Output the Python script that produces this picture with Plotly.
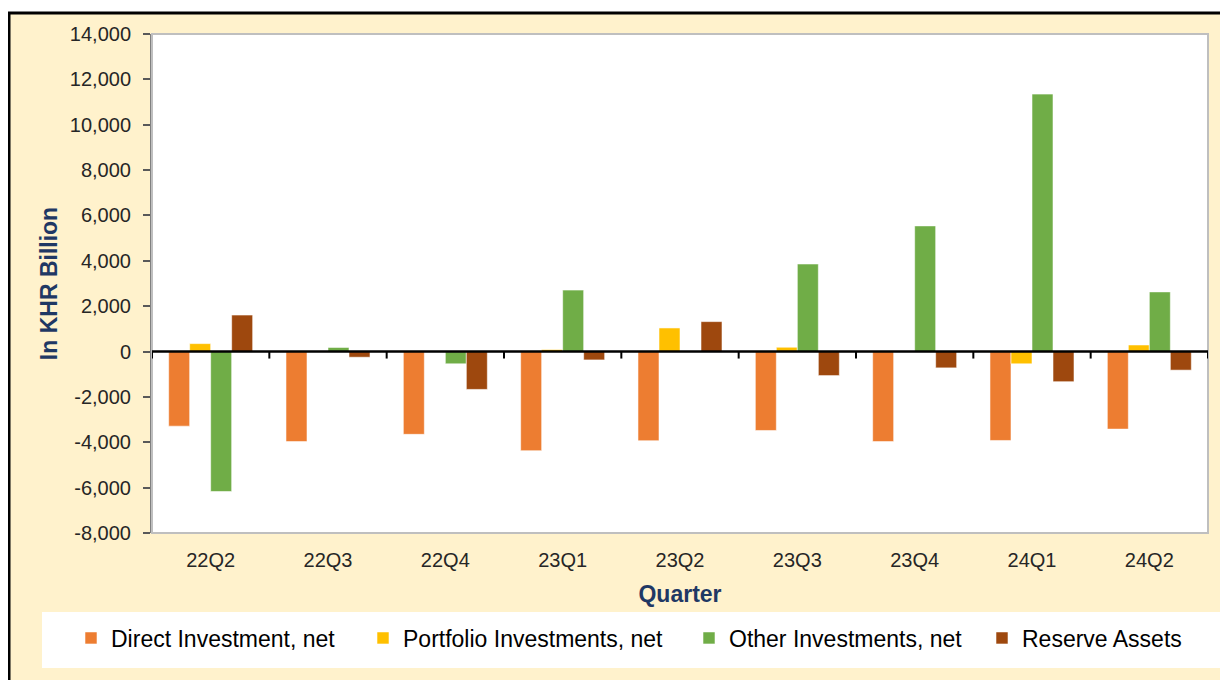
import plotly.graph_objects as go

quarters = ["22Q2", "22Q3", "22Q4", "23Q1", "23Q2", "23Q3", "23Q4", "24Q1", "24Q2"]
direct = [-3290, -3970, -3650, -4370, -3930, -3480, -3970, -3920, -3420]
portfolio = [350, 10, 20, 90, 1040, 190, 20, -540, 290]
other = [-6170, 180, -540, 2710, 10, 3860, 5540, 11350, 2630]
reserve = [1610, -250, -1670, -370, 1320, -1060, -720, -1330, -820]

series_names = ["Direct Investment, net", "Portfolio Investments, net",
                "Other Investments, net", "Reserve Assets"]
series_values = [direct, portfolio, other, reserve]
series_colors = ["#ED7D31", "#FFC000", "#70AD47", "#9E480E"]
y_ticks = list(range(-8000, 14001, 2000))
y_tick_labels = [f"{v:,}" for v in y_ticks]

FONT = "Arial, 'Liberation Sans', sans-serif"
W, H = 1228, 680
L, R, T, B = 144, 28, 26, 155
PW, PH = W - L - R, H - T - B


def px_x(px):
    return (px - L) / PW


def px_y(py):
    return (H - B - py) / PH


fig = go.Figure()
legend_names = ["legend", "legend2", "legend3", "legend4"]
for name, vals, col, lg in zip(series_names, series_values, series_colors, legend_names):
    fig.add_trace(go.Bar(
        x=quarters, y=vals, name=name, legend=lg, showlegend=True,
        marker=dict(color=col, line=dict(color="rgba(255,255,255,0.55)", width=1)),
    ))

shapes = []
# yellow chart area with black frame (right/bottom edges fall outside the page)
shapes.append(dict(type="rect", xref="paper", yref="paper", x0=px_x(1), x1=px_x(1300),
                   y0=px_y(760), y1=px_y(5), fillcolor="#FFF2CC",
                   line=dict(color="black", width=3), layer="below"))
# legend white box
shapes.append(dict(type="rect", xref="paper", yref="paper", x0=px_x(34), x1=px_x(1216),
                   y0=px_y(660), y1=px_y(604), fillcolor="white", line=dict(width=0), layer="below"))
# plot area white + border
shapes.append(dict(type="rect", xref="paper", yref="paper", x0=0, x1=1, y0=0, y1=1,
                   fillcolor="white", line=dict(width=0), layer="below"))
shapes.append(dict(type="rect", xref="paper", yref="paper", x0=0, x1=1, y0=0, y1=1,
                   line=dict(color="#BFBFBF", width=2), layer="above"))
# category boundary ticks on the zero line
for i in range(len(quarters) + 1):
    shapes.append(dict(type="line", xref="x", yref="y", ysizemode="pixel", yanchor=0,
                       x0=i - 0.5, x1=i - 0.5, y0=0, y1=-7,
                       line=dict(color="black", width=2)))
# zero line
shapes.append(dict(type="line", xref="paper", yref="y", x0=0, x1=1, y0=0, y1=0,
                   line=dict(color="black", width=2.5)))

fig.update_layout(
    width=W, height=H,
    margin=dict(l=L, r=R, t=T, b=B),
    paper_bgcolor="white",
    plot_bgcolor="white",
    showlegend=True,
    barmode="group",
    bargap=0.284,
    bargroupgap=0,
    font=dict(family=FONT, color="#262626", size=20),
    shapes=shapes,
    xaxis=dict(
        type="category", range=[-0.5, len(quarters) - 0.5],
        showgrid=False, showline=False, ticks="", zeroline=False,
        tickfont=dict(size=20, color="#262626"), ticklabelstandoff=13,
        title=dict(text="<b>Quarter</b>", font=dict(size=23, color="#1F3864"), standoff=15),
    ),
    yaxis=dict(
        range=[-8000, 14000], tickvals=y_ticks, ticktext=y_tick_labels,
        showgrid=False, zeroline=False,
        showline=True, linecolor="#808080", linewidth=2,
        ticks="outside", ticklen=7, tickcolor="#595959", tickwidth=1.5,
        tickfont=dict(size=20, color="#262626"), ticklabelstandoff=8,
        title=dict(text="<b>In KHR Billion</b>", font=dict(size=23, color="#1F3864"), standoff=6),
    ),
)

# reference marker centres (page px, figure offset 8)
marker_centers = [95, 387, 713, 1006]
for lg, mc in zip(legend_names, marker_centers):
    fig.update_layout({lg: dict(
        orientation="h", x=px_x(mc - 32), xanchor="left",
        y=px_y(630), yanchor="middle",
        bgcolor="rgba(0,0,0,0)", borderwidth=0,
        font=dict(family=FONT, size=23, color="#000000"),
    )})

fig.write_html("out.html")
